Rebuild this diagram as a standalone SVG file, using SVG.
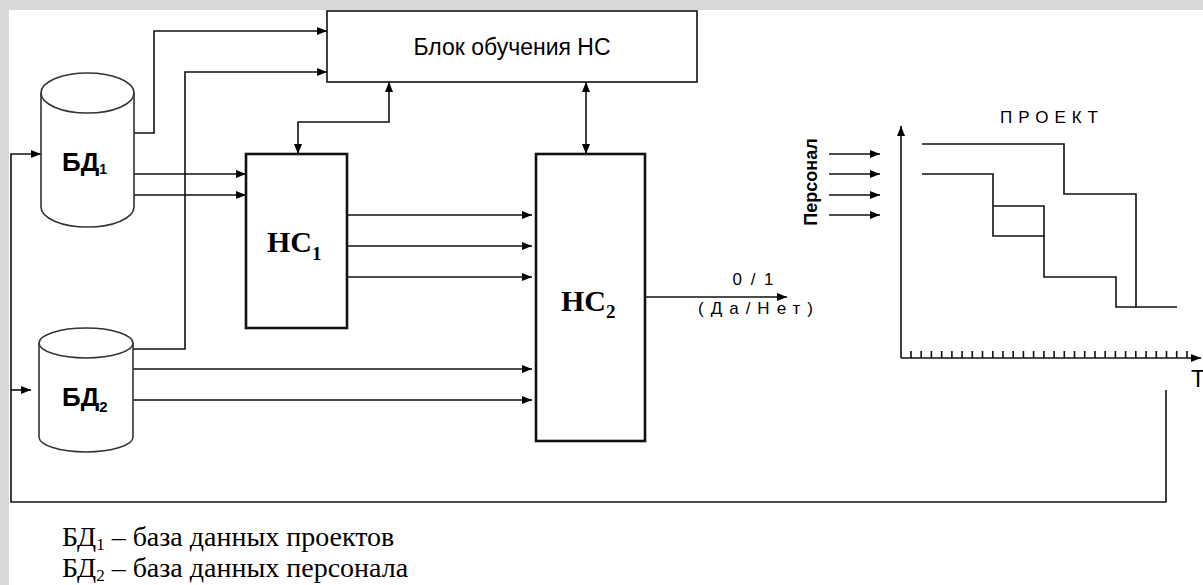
<svg xmlns="http://www.w3.org/2000/svg" width="1203" height="585" viewBox="0 0 1203 585">
<defs>
<marker id="arr" markerUnits="userSpaceOnUse" markerWidth="10" markerHeight="8" refX="10" refY="4" orient="auto-start-reverse">
<path d="M0,0 L10,4 L0,8 z" fill="#000"/>
</marker>
<style>
.ln{fill:none;stroke:#111;stroke-width:1.6}
.ar{fill:none;stroke:#111;stroke-width:1.6;marker-end:url(#arr)}
.ar2{fill:none;stroke:#111;stroke-width:1.6;marker-end:url(#arr);marker-start:url(#arr)}
.cyl{fill:#fff;stroke:#333;stroke-width:1.6}
.box{fill:#fff;stroke:#111;stroke-width:1.6}
.thick{fill:#fff;stroke:#111;stroke-width:2.6}
.sans{font-family:"Liberation Sans",Arial,sans-serif;fill:#000}
.serif{font-family:"Liberation Serif","Times New Roman",serif;fill:#000}
</style>
</defs>
<rect x="0" y="0" width="1203" height="585" fill="#d9d9d9"/>
<rect x="9" y="10" width="1194" height="575" fill="#fff"/>

<g id="connectors">
<path class="ar" d="M1166,390 V502 H11 V154 H41"/>
<path class="ar" d="M11,390 H31"/>
<path class="ar" d="M134,133 H154 V31 H327"/>
<path class="ar" d="M133,349 H185 V72 H327"/>
<path class="ar" d="M134,174 H246"/>
<path class="ar" d="M134,195 H246"/>
<path class="ar2" d="M298,154 V122 H389 V82"/>
<path class="ar2" d="M586,82 V154"/>
<path class="ar" d="M347,215 H532"/>
<path class="ar" d="M347,246 H532"/>
<path class="ar" d="M347,277 H532"/>
<path class="ar" d="M133,369 H532"/>
<path class="ar" d="M133,400 H532"/>
<path class="ar" d="M645,297 H787"/>
</g>

<g id="learn">
<rect class="box" x="327" y="11" width="370" height="71"/>
<text class="sans" x="512" y="55" font-size="23" text-anchor="middle">Блок обучения НС</text>
</g>

<g id="db1">
<path class="cyl" d="M41,93 V207 A46.5,20 0 0 0 134,207 V93"/>
<ellipse class="cyl" cx="87.5" cy="93" rx="46.5" ry="20"/>
<text class="sans" x="62" y="171" font-size="26" font-weight="bold">БД<tspan font-size="14" dy="3">1</tspan></text>
</g>

<g id="db2">
<path class="cyl" d="M39,343 V437 A47,15 0 0 0 133,437 V343"/>
<ellipse class="cyl" cx="86" cy="343" rx="47" ry="15"/>
<text class="sans" x="62" y="406" font-size="26" font-weight="bold">БД<tspan font-size="15" dy="6">2</tspan></text>
</g>

<g id="nc1">
<rect class="thick" x="246" y="154" width="101" height="174"/>
<text class="serif" x="267" y="252" font-size="30" font-weight="bold">HC<tspan font-size="19" dy="8">1</tspan></text>
</g>

<g id="nc2">
<rect class="thick" x="536" y="154" width="109" height="287"/>
<text class="serif" x="561" y="311" font-size="30" font-weight="bold">HC<tspan font-size="19" dy="7">2</tspan></text>
</g>

<g id="output-label">
<text class="sans" x="754" y="285" font-size="17" text-anchor="middle" letter-spacing="2">0 / 1</text>
<text class="sans" x="759" y="314" font-size="17" text-anchor="middle" letter-spacing="7">(Да/Нет)</text>
</g>

<g id="chart">
<path class="ar" d="M901,358 V126"/>
<path class="ar" d="M901,358 H1201"/>
<path class="ln" d="M911,358v-7 M921.2,358v-7 M931.4,358v-7 M941.7,358v-7 M951.9,358v-7 M962.1,358v-7 M972.3,358v-7 M982.5,358v-7 M992.8,358v-7 M1003,358v-7 M1013.2,358v-7 M1023.4,358v-7 M1033.6,358v-7 M1043.9,358v-7 M1054.1,358v-7 M1064.3,358v-7 M1074.5,358v-7 M1084.7,358v-7 M1095,358v-7 M1105.2,358v-7 M1115.4,358v-7 M1125.6,358v-7 M1135.8,358v-7 M1146.1,358v-7 M1156.3,358v-7 M1166.5,358v-7 M1176.7,358v-7 M1187,358v-7"/>
<path class="ln" d="M922,144 H1064 V194 H1136 V307 H1177"/>
<path class="ln" d="M922,174 H993 V236 H1044 V277 H1116 V307 H1136"/>
<path class="ln" d="M993,206 H1044 V236"/>
<text class="sans" x="1052" y="123" font-size="17" text-anchor="middle" letter-spacing="6">ПРОЕКТ</text>
<text class="sans" x="1198" y="387" font-size="23" text-anchor="middle">T</text>
</g>

<g id="personnel">
<text class="sans" transform="translate(817,182) rotate(-90)" font-size="18" font-weight="bold" text-anchor="middle">Персонал</text>
<path class="ar" d="M829,154 H880"/>
<path class="ar" d="M829,174 H880"/>
<path class="ar" d="M829,195 H880"/>
<path class="ar" d="M829,215 H880"/>
</g>

<g id="legend">
<text class="serif" x="62" y="546" font-size="28">БД<tspan font-size="17" dy="4">1</tspan><tspan dy="-4"> – база данных проектов</tspan></text>
<text class="serif" x="62" y="577" font-size="28">БД<tspan font-size="17" dy="4">2</tspan><tspan dy="-4"> – база данных персонала</tspan></text>
</g>
</svg>
